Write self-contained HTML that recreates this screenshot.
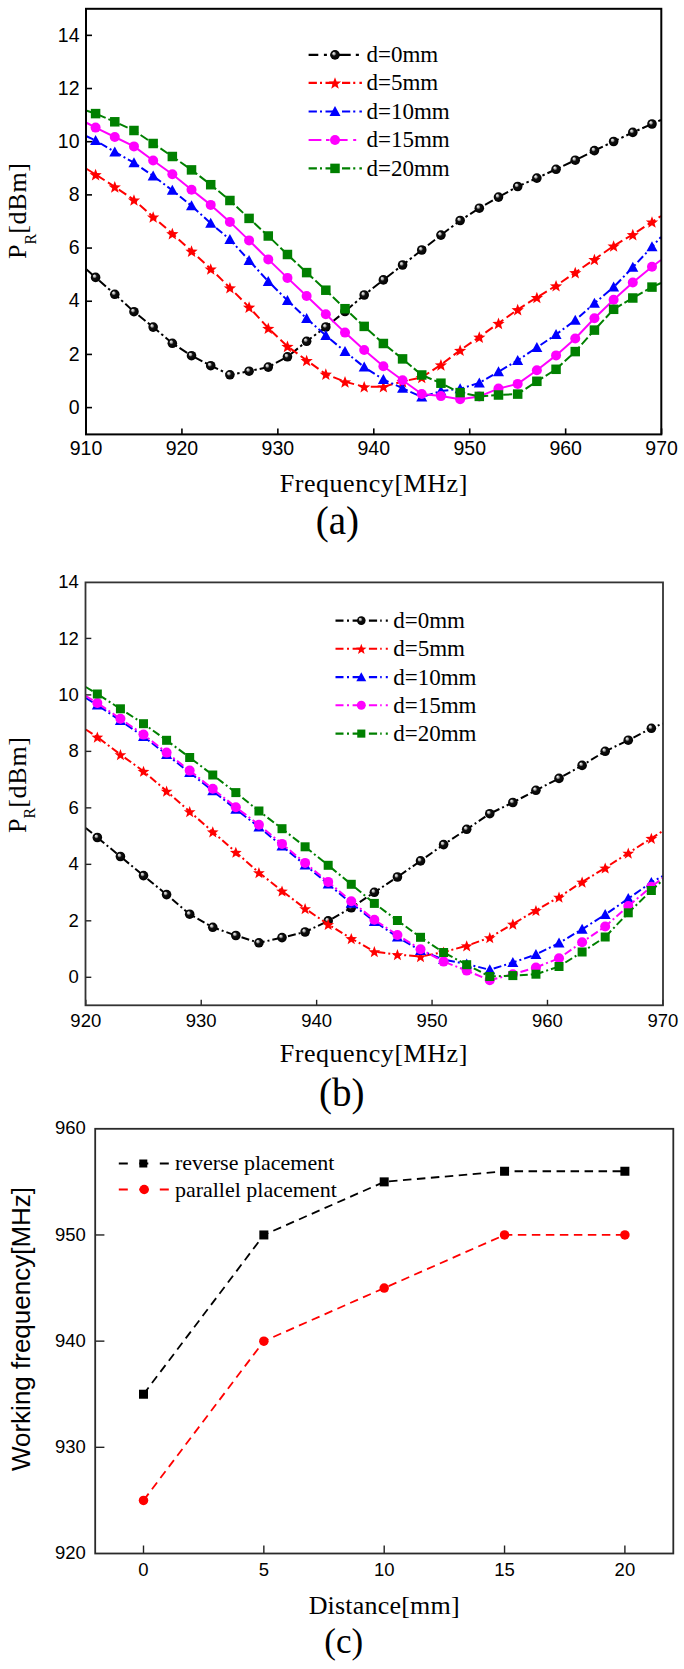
<!DOCTYPE html>
<html><head><meta charset="utf-8"><title>Figure</title>
<style>html,body{margin:0;padding:0;background:#fff;}body{width:684px;height:1669px;overflow:hidden;}svg{display:block;}text{fill:#000;}</style></head><body>
<svg width="684" height="1669" viewBox="0 0 684 1669">
<defs><radialGradient id="sph" cx="0.5" cy="0.5" r="0.5" fx="0.33" fy="0.3"><stop offset="0" stop-color="#fafafa"/><stop offset="0.25" stop-color="#aaa"/><stop offset="0.45" stop-color="#111"/><stop offset="1" stop-color="#000"/></radialGradient></defs>
<rect width="684" height="1669" fill="#fff"/>
<line x1="86.00" y1="407.60" x2="92.00" y2="407.60" stroke="#000" stroke-width="1.60"/>
<text x="79.50" y="413.80" font-size="19.50" font-family='"Liberation Sans", sans-serif' text-anchor="end" >0</text>
<line x1="86.00" y1="354.42" x2="92.00" y2="354.42" stroke="#000" stroke-width="1.60"/>
<text x="79.50" y="360.62" font-size="19.50" font-family='"Liberation Sans", sans-serif' text-anchor="end" >2</text>
<line x1="86.00" y1="301.24" x2="92.00" y2="301.24" stroke="#000" stroke-width="1.60"/>
<text x="79.50" y="307.44" font-size="19.50" font-family='"Liberation Sans", sans-serif' text-anchor="end" >4</text>
<line x1="86.00" y1="248.06" x2="92.00" y2="248.06" stroke="#000" stroke-width="1.60"/>
<text x="79.50" y="254.26" font-size="19.50" font-family='"Liberation Sans", sans-serif' text-anchor="end" >6</text>
<line x1="86.00" y1="194.88" x2="92.00" y2="194.88" stroke="#000" stroke-width="1.60"/>
<text x="79.50" y="201.08" font-size="19.50" font-family='"Liberation Sans", sans-serif' text-anchor="end" >8</text>
<line x1="86.00" y1="141.70" x2="92.00" y2="141.70" stroke="#000" stroke-width="1.60"/>
<text x="79.50" y="147.90" font-size="19.50" font-family='"Liberation Sans", sans-serif' text-anchor="end" >10</text>
<line x1="86.00" y1="88.52" x2="92.00" y2="88.52" stroke="#000" stroke-width="1.60"/>
<text x="79.50" y="94.72" font-size="19.50" font-family='"Liberation Sans", sans-serif' text-anchor="end" >12</text>
<line x1="86.00" y1="35.34" x2="92.00" y2="35.34" stroke="#000" stroke-width="1.60"/>
<text x="79.50" y="41.54" font-size="19.50" font-family='"Liberation Sans", sans-serif' text-anchor="end" >14</text>
<line x1="86.00" y1="434.40" x2="86.00" y2="428.40" stroke="#000" stroke-width="1.60"/>
<text x="86.00" y="455.20" font-size="19.50" font-family='"Liberation Sans", sans-serif' text-anchor="middle" >910</text>
<line x1="181.93" y1="434.40" x2="181.93" y2="428.40" stroke="#000" stroke-width="1.60"/>
<text x="181.93" y="455.20" font-size="19.50" font-family='"Liberation Sans", sans-serif' text-anchor="middle" >920</text>
<line x1="277.86" y1="434.40" x2="277.86" y2="428.40" stroke="#000" stroke-width="1.60"/>
<text x="277.86" y="455.20" font-size="19.50" font-family='"Liberation Sans", sans-serif' text-anchor="middle" >930</text>
<line x1="373.79" y1="434.40" x2="373.79" y2="428.40" stroke="#000" stroke-width="1.60"/>
<text x="373.79" y="455.20" font-size="19.50" font-family='"Liberation Sans", sans-serif' text-anchor="middle" >940</text>
<line x1="469.72" y1="434.40" x2="469.72" y2="428.40" stroke="#000" stroke-width="1.60"/>
<text x="469.72" y="455.20" font-size="19.50" font-family='"Liberation Sans", sans-serif' text-anchor="middle" >950</text>
<line x1="565.65" y1="434.40" x2="565.65" y2="428.40" stroke="#000" stroke-width="1.60"/>
<text x="565.65" y="455.20" font-size="19.50" font-family='"Liberation Sans", sans-serif' text-anchor="middle" >960</text>
<line x1="661.58" y1="434.40" x2="661.58" y2="428.40" stroke="#000" stroke-width="1.60"/>
<text x="661.58" y="455.20" font-size="19.50" font-family='"Liberation Sans", sans-serif' text-anchor="middle" >970</text>
<polyline points="86.00,269.00 95.59,277.40 114.78,294.30 133.97,311.70 153.15,327.10 172.34,343.30 191.52,355.70 210.71,365.70 229.90,374.80 249.08,371.20 268.27,367.10 287.45,356.80 306.64,341.30 325.82,327.00 345.01,311.50 364.20,295.00 383.38,279.90 402.57,265.00 421.75,250.00 440.94,235.10 460.13,220.50 479.31,208.20 498.50,197.10 517.68,186.50 536.87,178.10 556.06,169.30 575.24,160.20 594.43,150.60 613.62,141.50 632.80,132.40 651.99,124.00 661.00,120.00" fill="none" stroke="#000" stroke-width="2.00" stroke-dasharray="9 3 2.5 3" stroke-linejoin="round"/>
<circle cx="95.59" cy="277.40" r="4.80" fill="url(#sph)"/>
<circle cx="114.78" cy="294.30" r="4.80" fill="url(#sph)"/>
<circle cx="133.97" cy="311.70" r="4.80" fill="url(#sph)"/>
<circle cx="153.15" cy="327.10" r="4.80" fill="url(#sph)"/>
<circle cx="172.34" cy="343.30" r="4.80" fill="url(#sph)"/>
<circle cx="191.52" cy="355.70" r="4.80" fill="url(#sph)"/>
<circle cx="210.71" cy="365.70" r="4.80" fill="url(#sph)"/>
<circle cx="229.90" cy="374.80" r="4.80" fill="url(#sph)"/>
<circle cx="249.08" cy="371.20" r="4.80" fill="url(#sph)"/>
<circle cx="268.27" cy="367.10" r="4.80" fill="url(#sph)"/>
<circle cx="287.45" cy="356.80" r="4.80" fill="url(#sph)"/>
<circle cx="306.64" cy="341.30" r="4.80" fill="url(#sph)"/>
<circle cx="325.82" cy="327.00" r="4.80" fill="url(#sph)"/>
<circle cx="345.01" cy="311.50" r="4.80" fill="url(#sph)"/>
<circle cx="364.20" cy="295.00" r="4.80" fill="url(#sph)"/>
<circle cx="383.38" cy="279.90" r="4.80" fill="url(#sph)"/>
<circle cx="402.57" cy="265.00" r="4.80" fill="url(#sph)"/>
<circle cx="421.75" cy="250.00" r="4.80" fill="url(#sph)"/>
<circle cx="440.94" cy="235.10" r="4.80" fill="url(#sph)"/>
<circle cx="460.13" cy="220.50" r="4.80" fill="url(#sph)"/>
<circle cx="479.31" cy="208.20" r="4.80" fill="url(#sph)"/>
<circle cx="498.50" cy="197.10" r="4.80" fill="url(#sph)"/>
<circle cx="517.68" cy="186.50" r="4.80" fill="url(#sph)"/>
<circle cx="536.87" cy="178.10" r="4.80" fill="url(#sph)"/>
<circle cx="556.06" cy="169.30" r="4.80" fill="url(#sph)"/>
<circle cx="575.24" cy="160.20" r="4.80" fill="url(#sph)"/>
<circle cx="594.43" cy="150.60" r="4.80" fill="url(#sph)"/>
<circle cx="613.62" cy="141.50" r="4.80" fill="url(#sph)"/>
<circle cx="632.80" cy="132.40" r="4.80" fill="url(#sph)"/>
<circle cx="651.99" cy="124.00" r="4.80" fill="url(#sph)"/>
<polyline points="86.00,168.50 95.59,174.50 114.78,186.80 133.97,199.90 153.15,216.90 172.34,233.60 191.52,251.10 210.71,268.90 229.90,287.70 249.08,307.10 268.27,328.20 287.45,346.30 306.64,360.40 325.82,374.10 345.01,381.80 364.20,386.70 383.38,386.70 402.57,381.50 421.75,377.40 440.94,364.80 460.13,350.20 479.31,337.00 498.50,323.30 517.68,309.60 536.87,297.40 556.06,285.70 575.24,272.50 594.43,259.40 613.62,245.90 632.80,234.50 651.99,221.90 661.00,216.00" fill="none" stroke="#ff0000" stroke-width="2.00" stroke-dasharray="9 4" stroke-linejoin="round"/>
<path d="M95.59,168.75 L97.18,173.00 L101.72,173.20 L98.17,176.03 L99.38,180.40 L95.59,177.89 L91.81,180.40 L93.02,176.03 L89.47,173.20 L94.00,173.00Z" fill="#ff0000"/>
<path d="M114.78,181.05 L116.37,185.30 L120.90,185.50 L117.35,188.33 L118.56,192.70 L114.78,190.19 L110.99,192.70 L112.21,188.33 L108.65,185.50 L113.19,185.30Z" fill="#ff0000"/>
<path d="M133.97,194.15 L135.55,198.40 L140.09,198.60 L136.54,201.43 L137.75,205.80 L133.97,203.29 L130.18,205.80 L131.39,201.43 L127.84,198.60 L132.38,198.40Z" fill="#ff0000"/>
<path d="M153.15,211.15 L154.74,215.40 L159.28,215.60 L155.72,218.43 L156.94,222.80 L153.15,220.29 L149.37,222.80 L150.58,218.43 L147.03,215.60 L151.56,215.40Z" fill="#ff0000"/>
<path d="M172.34,227.85 L173.93,232.10 L178.46,232.30 L174.91,235.13 L176.12,239.50 L172.34,236.99 L168.55,239.50 L169.76,235.13 L166.21,232.30 L170.75,232.10Z" fill="#ff0000"/>
<path d="M191.52,245.35 L193.11,249.60 L197.65,249.80 L194.10,252.63 L195.31,257.00 L191.52,254.49 L187.74,257.00 L188.95,252.63 L185.40,249.80 L189.93,249.60Z" fill="#ff0000"/>
<path d="M210.71,263.15 L212.30,267.40 L216.83,267.60 L213.28,270.43 L214.49,274.80 L210.71,272.29 L206.92,274.80 L208.14,270.43 L204.58,267.60 L209.12,267.40Z" fill="#ff0000"/>
<path d="M229.90,281.95 L231.48,286.20 L236.02,286.40 L232.47,289.23 L233.68,293.60 L229.90,291.09 L226.11,293.60 L227.32,289.23 L223.77,286.40 L228.31,286.20Z" fill="#ff0000"/>
<path d="M249.08,301.35 L250.67,305.60 L255.21,305.80 L251.65,308.63 L252.87,313.00 L249.08,310.49 L245.30,313.00 L246.51,308.63 L242.96,305.80 L247.49,305.60Z" fill="#ff0000"/>
<path d="M268.27,322.45 L269.86,326.70 L274.39,326.90 L270.84,329.73 L272.05,334.10 L268.27,331.59 L264.48,334.10 L265.69,329.73 L262.14,326.90 L266.68,326.70Z" fill="#ff0000"/>
<path d="M287.45,340.55 L289.04,344.80 L293.58,345.00 L290.03,347.83 L291.24,352.20 L287.45,349.69 L283.67,352.20 L284.88,347.83 L281.33,345.00 L285.86,344.80Z" fill="#ff0000"/>
<path d="M306.64,354.65 L308.23,358.90 L312.76,359.10 L309.21,361.93 L310.42,366.30 L306.64,363.79 L302.85,366.30 L304.07,361.93 L300.51,359.10 L305.05,358.90Z" fill="#ff0000"/>
<path d="M325.82,368.35 L327.41,372.60 L331.95,372.80 L328.40,375.63 L329.61,380.00 L325.82,377.49 L322.04,380.00 L323.25,375.63 L319.70,372.80 L324.24,372.60Z" fill="#ff0000"/>
<path d="M345.01,376.05 L346.60,380.30 L351.14,380.50 L347.58,383.33 L348.80,387.70 L345.01,385.19 L341.23,387.70 L342.44,383.33 L338.89,380.50 L343.42,380.30Z" fill="#ff0000"/>
<path d="M364.20,380.95 L365.79,385.20 L370.32,385.40 L366.77,388.23 L367.98,392.60 L364.20,390.09 L360.41,392.60 L361.62,388.23 L358.07,385.40 L362.61,385.20Z" fill="#ff0000"/>
<path d="M383.38,380.95 L384.97,385.20 L389.51,385.40 L385.96,388.23 L387.17,392.60 L383.38,390.09 L379.60,392.60 L380.81,388.23 L377.26,385.40 L381.79,385.20Z" fill="#ff0000"/>
<path d="M402.57,375.75 L404.16,380.00 L408.69,380.20 L405.14,383.03 L406.35,387.40 L402.57,384.89 L398.78,387.40 L400.00,383.03 L396.44,380.20 L400.98,380.00Z" fill="#ff0000"/>
<path d="M421.75,371.65 L423.34,375.90 L427.88,376.10 L424.33,378.93 L425.54,383.30 L421.75,380.79 L417.97,383.30 L419.18,378.93 L415.63,376.10 L420.17,375.90Z" fill="#ff0000"/>
<path d="M440.94,359.05 L442.53,363.30 L447.07,363.50 L443.51,366.33 L444.73,370.70 L440.94,368.19 L437.16,370.70 L438.37,366.33 L434.82,363.50 L439.35,363.30Z" fill="#ff0000"/>
<path d="M460.13,344.45 L461.72,348.70 L466.25,348.90 L462.70,351.73 L463.91,356.10 L460.13,353.59 L456.34,356.10 L457.55,351.73 L454.00,348.90 L458.54,348.70Z" fill="#ff0000"/>
<path d="M479.31,331.25 L480.90,335.50 L485.44,335.70 L481.89,338.53 L483.10,342.90 L479.31,340.39 L475.53,342.90 L476.74,338.53 L473.19,335.70 L477.72,335.50Z" fill="#ff0000"/>
<path d="M498.50,317.55 L500.09,321.80 L504.62,322.00 L501.07,324.83 L502.28,329.20 L498.50,326.69 L494.71,329.20 L495.93,324.83 L492.37,322.00 L496.91,321.80Z" fill="#ff0000"/>
<path d="M517.68,303.85 L519.27,308.10 L523.81,308.30 L520.26,311.13 L521.47,315.50 L517.68,312.99 L513.90,315.50 L515.11,311.13 L511.56,308.30 L516.10,308.10Z" fill="#ff0000"/>
<path d="M536.87,291.65 L538.46,295.90 L543.00,296.10 L539.44,298.93 L540.66,303.30 L536.87,300.79 L533.09,303.30 L534.30,298.93 L530.75,296.10 L535.28,295.90Z" fill="#ff0000"/>
<path d="M556.06,279.95 L557.65,284.20 L562.18,284.40 L558.63,287.23 L559.84,291.60 L556.06,289.09 L552.27,291.60 L553.48,287.23 L549.93,284.40 L554.47,284.20Z" fill="#ff0000"/>
<path d="M575.24,266.75 L576.83,271.00 L581.37,271.20 L577.82,274.03 L579.03,278.40 L575.24,275.89 L571.46,278.40 L572.67,274.03 L569.12,271.20 L573.65,271.00Z" fill="#ff0000"/>
<path d="M594.43,253.65 L596.02,257.90 L600.55,258.10 L597.00,260.93 L598.21,265.30 L594.43,262.79 L590.64,265.30 L591.86,260.93 L588.30,258.10 L592.84,257.90Z" fill="#ff0000"/>
<path d="M613.62,240.15 L615.20,244.40 L619.74,244.60 L616.19,247.43 L617.40,251.80 L613.62,249.29 L609.83,251.80 L611.04,247.43 L607.49,244.60 L612.03,244.40Z" fill="#ff0000"/>
<path d="M632.80,228.75 L634.39,233.00 L638.93,233.20 L635.37,236.03 L636.59,240.40 L632.80,237.89 L629.02,240.40 L630.23,236.03 L626.68,233.20 L631.21,233.00Z" fill="#ff0000"/>
<path d="M651.99,216.15 L653.58,220.40 L658.11,220.60 L654.56,223.43 L655.77,227.80 L651.99,225.29 L648.20,227.80 L649.41,223.43 L645.86,220.60 L650.40,220.40Z" fill="#ff0000"/>
<polyline points="86.00,136.00 95.59,140.50 114.78,151.90 133.97,162.70 153.15,176.00 172.34,190.30 191.52,205.80 210.71,223.30 229.90,239.50 249.08,260.40 268.27,281.40 287.45,300.40 306.64,318.50 325.82,335.50 345.01,351.50 364.20,367.10 383.38,379.40 402.57,388.20 421.75,397.00 440.94,391.10 460.13,388.80 479.31,382.90 498.50,371.70 517.68,360.40 536.87,347.50 556.06,334.50 575.24,320.20 594.43,303.30 613.62,287.10 632.80,267.30 651.99,246.80 661.00,237.00" fill="none" stroke="#0000ff" stroke-width="2.00" stroke-dasharray="8 3 2 3" stroke-linejoin="round"/>
<path d="M95.59,135.01 L101.11,144.99 L90.08,144.99Z" fill="#0000ff"/>
<path d="M114.78,146.41 L120.29,156.39 L109.27,156.39Z" fill="#0000ff"/>
<path d="M133.97,157.21 L139.48,167.19 L128.45,167.19Z" fill="#0000ff"/>
<path d="M153.15,170.51 L158.66,180.49 L147.64,180.49Z" fill="#0000ff"/>
<path d="M172.34,184.81 L177.85,194.79 L166.82,194.79Z" fill="#0000ff"/>
<path d="M191.52,200.31 L197.04,210.29 L186.01,210.29Z" fill="#0000ff"/>
<path d="M210.71,217.81 L216.22,227.79 L205.20,227.79Z" fill="#0000ff"/>
<path d="M229.90,234.01 L235.41,243.99 L224.38,243.99Z" fill="#0000ff"/>
<path d="M249.08,254.91 L254.59,264.89 L243.57,264.89Z" fill="#0000ff"/>
<path d="M268.27,275.91 L273.78,285.89 L262.75,285.89Z" fill="#0000ff"/>
<path d="M287.45,294.91 L292.97,304.89 L281.94,304.89Z" fill="#0000ff"/>
<path d="M306.64,313.01 L312.15,322.99 L301.13,322.99Z" fill="#0000ff"/>
<path d="M325.82,330.01 L331.34,339.99 L320.31,339.99Z" fill="#0000ff"/>
<path d="M345.01,346.01 L350.52,355.99 L339.50,355.99Z" fill="#0000ff"/>
<path d="M364.20,361.61 L369.71,371.59 L358.68,371.59Z" fill="#0000ff"/>
<path d="M383.38,373.91 L388.90,383.89 L377.87,383.89Z" fill="#0000ff"/>
<path d="M402.57,382.71 L408.08,392.69 L397.06,392.69Z" fill="#0000ff"/>
<path d="M421.75,391.51 L427.27,401.49 L416.24,401.49Z" fill="#0000ff"/>
<path d="M440.94,385.61 L446.45,395.59 L435.43,395.59Z" fill="#0000ff"/>
<path d="M460.13,383.31 L465.64,393.29 L454.61,393.29Z" fill="#0000ff"/>
<path d="M479.31,377.41 L484.83,387.39 L473.80,387.39Z" fill="#0000ff"/>
<path d="M498.50,366.21 L504.01,376.19 L492.99,376.19Z" fill="#0000ff"/>
<path d="M517.68,354.91 L523.20,364.89 L512.17,364.89Z" fill="#0000ff"/>
<path d="M536.87,342.01 L542.38,351.99 L531.36,351.99Z" fill="#0000ff"/>
<path d="M556.06,329.01 L561.57,338.99 L550.54,338.99Z" fill="#0000ff"/>
<path d="M575.24,314.71 L580.76,324.69 L569.73,324.69Z" fill="#0000ff"/>
<path d="M594.43,297.81 L599.94,307.79 L588.92,307.79Z" fill="#0000ff"/>
<path d="M613.62,281.61 L619.13,291.59 L608.10,291.59Z" fill="#0000ff"/>
<path d="M632.80,261.81 L638.31,271.79 L627.29,271.79Z" fill="#0000ff"/>
<path d="M651.99,241.31 L657.50,251.29 L646.47,251.29Z" fill="#0000ff"/>
<polyline points="86.00,122.50 95.59,127.60 114.78,137.00 133.97,146.40 153.15,160.50 172.34,174.30 191.52,189.70 210.71,204.90 229.90,221.90 249.08,240.40 268.27,259.40 287.45,277.90 306.64,296.00 325.82,314.20 345.01,332.60 364.20,350.00 383.38,366.30 402.57,380.30 421.75,394.00 440.94,396.10 460.13,399.30 479.31,396.40 498.50,388.60 517.68,383.90 536.87,370.20 556.06,355.40 575.24,338.50 594.43,318.20 613.62,299.80 632.80,282.50 651.99,266.70 661.00,260.00" fill="none" stroke="#ff00ff" stroke-width="2.00" stroke-linejoin="round"/>
<circle cx="95.59" cy="127.60" r="5.00" fill="#ff00ff"/>
<circle cx="114.78" cy="137.00" r="5.00" fill="#ff00ff"/>
<circle cx="133.97" cy="146.40" r="5.00" fill="#ff00ff"/>
<circle cx="153.15" cy="160.50" r="5.00" fill="#ff00ff"/>
<circle cx="172.34" cy="174.30" r="5.00" fill="#ff00ff"/>
<circle cx="191.52" cy="189.70" r="5.00" fill="#ff00ff"/>
<circle cx="210.71" cy="204.90" r="5.00" fill="#ff00ff"/>
<circle cx="229.90" cy="221.90" r="5.00" fill="#ff00ff"/>
<circle cx="249.08" cy="240.40" r="5.00" fill="#ff00ff"/>
<circle cx="268.27" cy="259.40" r="5.00" fill="#ff00ff"/>
<circle cx="287.45" cy="277.90" r="5.00" fill="#ff00ff"/>
<circle cx="306.64" cy="296.00" r="5.00" fill="#ff00ff"/>
<circle cx="325.82" cy="314.20" r="5.00" fill="#ff00ff"/>
<circle cx="345.01" cy="332.60" r="5.00" fill="#ff00ff"/>
<circle cx="364.20" cy="350.00" r="5.00" fill="#ff00ff"/>
<circle cx="383.38" cy="366.30" r="5.00" fill="#ff00ff"/>
<circle cx="402.57" cy="380.30" r="5.00" fill="#ff00ff"/>
<circle cx="421.75" cy="394.00" r="5.00" fill="#ff00ff"/>
<circle cx="440.94" cy="396.10" r="5.00" fill="#ff00ff"/>
<circle cx="460.13" cy="399.30" r="5.00" fill="#ff00ff"/>
<circle cx="479.31" cy="396.40" r="5.00" fill="#ff00ff"/>
<circle cx="498.50" cy="388.60" r="5.00" fill="#ff00ff"/>
<circle cx="517.68" cy="383.90" r="5.00" fill="#ff00ff"/>
<circle cx="536.87" cy="370.20" r="5.00" fill="#ff00ff"/>
<circle cx="556.06" cy="355.40" r="5.00" fill="#ff00ff"/>
<circle cx="575.24" cy="338.50" r="5.00" fill="#ff00ff"/>
<circle cx="594.43" cy="318.20" r="5.00" fill="#ff00ff"/>
<circle cx="613.62" cy="299.80" r="5.00" fill="#ff00ff"/>
<circle cx="632.80" cy="282.50" r="5.00" fill="#ff00ff"/>
<circle cx="651.99" cy="266.70" r="5.00" fill="#ff00ff"/>
<polyline points="86.00,110.50 95.59,113.60 114.78,121.80 133.97,130.50 153.15,143.50 172.34,156.50 191.52,169.90 210.71,184.70 229.90,200.50 249.08,218.40 268.27,236.00 287.45,254.50 306.64,272.60 325.82,290.20 345.01,308.70 364.20,326.40 383.38,343.50 402.57,358.90 421.75,375.00 440.94,383.20 460.13,392.60 479.31,396.40 498.50,395.00 517.68,394.10 536.87,381.30 556.06,369.30 575.24,351.60 594.43,330.10 613.62,309.30 632.80,298.00 651.99,287.10 661.00,283.00" fill="none" stroke="#008000" stroke-width="2.00" stroke-dasharray="9 3" stroke-linejoin="round"/>
<rect x="90.84" y="108.85" width="9.50" height="9.50" fill="#008000"/>
<rect x="110.03" y="117.05" width="9.50" height="9.50" fill="#008000"/>
<rect x="129.22" y="125.75" width="9.50" height="9.50" fill="#008000"/>
<rect x="148.40" y="138.75" width="9.50" height="9.50" fill="#008000"/>
<rect x="167.59" y="151.75" width="9.50" height="9.50" fill="#008000"/>
<rect x="186.77" y="165.15" width="9.50" height="9.50" fill="#008000"/>
<rect x="205.96" y="179.95" width="9.50" height="9.50" fill="#008000"/>
<rect x="225.15" y="195.75" width="9.50" height="9.50" fill="#008000"/>
<rect x="244.33" y="213.65" width="9.50" height="9.50" fill="#008000"/>
<rect x="263.52" y="231.25" width="9.50" height="9.50" fill="#008000"/>
<rect x="282.70" y="249.75" width="9.50" height="9.50" fill="#008000"/>
<rect x="301.89" y="267.85" width="9.50" height="9.50" fill="#008000"/>
<rect x="321.07" y="285.45" width="9.50" height="9.50" fill="#008000"/>
<rect x="340.26" y="303.95" width="9.50" height="9.50" fill="#008000"/>
<rect x="359.45" y="321.65" width="9.50" height="9.50" fill="#008000"/>
<rect x="378.63" y="338.75" width="9.50" height="9.50" fill="#008000"/>
<rect x="397.82" y="354.15" width="9.50" height="9.50" fill="#008000"/>
<rect x="417.00" y="370.25" width="9.50" height="9.50" fill="#008000"/>
<rect x="436.19" y="378.45" width="9.50" height="9.50" fill="#008000"/>
<rect x="455.38" y="387.85" width="9.50" height="9.50" fill="#008000"/>
<rect x="474.56" y="391.65" width="9.50" height="9.50" fill="#008000"/>
<rect x="493.75" y="390.25" width="9.50" height="9.50" fill="#008000"/>
<rect x="512.93" y="389.35" width="9.50" height="9.50" fill="#008000"/>
<rect x="532.12" y="376.55" width="9.50" height="9.50" fill="#008000"/>
<rect x="551.31" y="364.55" width="9.50" height="9.50" fill="#008000"/>
<rect x="570.49" y="346.85" width="9.50" height="9.50" fill="#008000"/>
<rect x="589.68" y="325.35" width="9.50" height="9.50" fill="#008000"/>
<rect x="608.87" y="304.55" width="9.50" height="9.50" fill="#008000"/>
<rect x="628.05" y="293.25" width="9.50" height="9.50" fill="#008000"/>
<rect x="647.24" y="282.35" width="9.50" height="9.50" fill="#008000"/>
<rect x="86.00" y="8.80" width="575.30" height="425.60" fill="none" stroke="#000" stroke-width="2.00"/>
<polyline points="308.60,54.90 335.00,54.90" fill="none" stroke="#000" stroke-width="2.10" stroke-dasharray="9.7 5.6 3 3.7 20" stroke-linejoin="round"/>
<polyline points="335.00,54.90 362.00,54.90" fill="none" stroke="#000" stroke-width="2.10" stroke-dasharray="15.7 5.1 3.1 10" stroke-linejoin="round"/>
<circle cx="335.00" cy="54.90" r="4.80" fill="url(#sph)"/>
<text x="366.50" y="62.30" font-size="23.00" font-family='"Liberation Serif", serif' text-anchor="start" >d=0mm</text>
<polyline points="308.60,82.90 335.00,82.90" fill="none" stroke="#ff0000" stroke-width="2.10" stroke-dasharray="8.3 3.1 2 3.5 20" stroke-linejoin="round"/>
<polyline points="335.00,82.90 362.00,82.90" fill="none" stroke="#ff0000" stroke-width="2.10" stroke-dasharray="0 7 8.2 3 2.1 4.1 2.5 10" stroke-linejoin="round"/>
<path d="M335.00,77.15 L336.59,81.40 L341.12,81.60 L337.57,84.43 L338.79,88.80 L335.00,86.29 L331.21,88.80 L332.43,84.43 L328.88,81.60 L333.41,81.40Z" fill="#ff0000"/>
<text x="366.50" y="90.30" font-size="23.00" font-family='"Liberation Serif", serif' text-anchor="start" >d=5mm</text>
<polyline points="308.60,111.50 335.00,111.50" fill="none" stroke="#0000ff" stroke-width="2.10" stroke-dasharray="8.3 3.1 2 3.5 20" stroke-linejoin="round"/>
<polyline points="335.00,111.50 362.00,111.50" fill="none" stroke="#0000ff" stroke-width="2.10" stroke-dasharray="0 7 8.2 3 2.1 4.1 2.5 10" stroke-linejoin="round"/>
<path d="M335.00,106.01 L340.51,115.99 L329.49,115.99Z" fill="#0000ff"/>
<text x="366.50" y="118.90" font-size="23.00" font-family='"Liberation Serif", serif' text-anchor="start" >d=10mm</text>
<polyline points="308.60,140.00 335.00,140.00" fill="none" stroke="#ff00ff" stroke-width="2.10" stroke-dasharray="12.8 4.6 3.6 3 20" stroke-linejoin="round"/>
<polyline points="335.00,140.00 362.00,140.00" fill="none" stroke="#ff00ff" stroke-width="2.10" stroke-dasharray="12.6 5.6 3 20" stroke-linejoin="round"/>
<circle cx="335.00" cy="140.00" r="5.00" fill="#ff00ff"/>
<text x="366.50" y="147.40" font-size="23.00" font-family='"Liberation Serif", serif' text-anchor="start" >d=15mm</text>
<polyline points="308.60,168.40 335.00,168.40" fill="none" stroke="#008000" stroke-width="2.10" stroke-dasharray="8.3 3.1 2 3.5 20" stroke-linejoin="round"/>
<polyline points="335.00,168.40 362.00,168.40" fill="none" stroke="#008000" stroke-width="2.10" stroke-dasharray="0 7 8.2 3 2.1 4.1 2.5 10" stroke-linejoin="round"/>
<rect x="330.25" y="163.65" width="9.50" height="9.50" fill="#008000"/>
<text x="366.50" y="175.80" font-size="23.00" font-family='"Liberation Serif", serif' text-anchor="start" >d=20mm</text>
<text x="373.80" y="492.00" font-size="26.00" font-family='"Liberation Serif", serif' text-anchor="middle" letter-spacing="0.55">Frequency[MHz]</text>
<text x="337.40" y="534.00" font-size="39.00" font-family='"Liberation Serif", serif' text-anchor="middle" >(a)</text>
<g transform="translate(26.4,210.6) rotate(-90)"><text x="0" y="0" font-size="26" font-family='"Liberation Serif", serif' text-anchor="middle">P<tspan font-size="16" dy="9.5">R</tspan><tspan dy="-9.5" letter-spacing="0.75">[dBm]</tspan></text></g>
<line x1="85.80" y1="977.30" x2="91.30" y2="977.30" stroke="#222" stroke-width="1.40"/>
<text x="78.80" y="983.40" font-size="18.50" font-family='"Liberation Sans", sans-serif' text-anchor="end" >0</text>
<line x1="85.80" y1="920.82" x2="91.30" y2="920.82" stroke="#222" stroke-width="1.40"/>
<text x="78.80" y="926.92" font-size="18.50" font-family='"Liberation Sans", sans-serif' text-anchor="end" >2</text>
<line x1="85.80" y1="864.34" x2="91.30" y2="864.34" stroke="#222" stroke-width="1.40"/>
<text x="78.80" y="870.44" font-size="18.50" font-family='"Liberation Sans", sans-serif' text-anchor="end" >4</text>
<line x1="85.80" y1="807.86" x2="91.30" y2="807.86" stroke="#222" stroke-width="1.40"/>
<text x="78.80" y="813.96" font-size="18.50" font-family='"Liberation Sans", sans-serif' text-anchor="end" >6</text>
<line x1="85.80" y1="751.38" x2="91.30" y2="751.38" stroke="#222" stroke-width="1.40"/>
<text x="78.80" y="757.48" font-size="18.50" font-family='"Liberation Sans", sans-serif' text-anchor="end" >8</text>
<line x1="85.80" y1="694.90" x2="91.30" y2="694.90" stroke="#222" stroke-width="1.40"/>
<text x="78.80" y="701.00" font-size="18.50" font-family='"Liberation Sans", sans-serif' text-anchor="end" >10</text>
<line x1="85.80" y1="638.42" x2="91.30" y2="638.42" stroke="#222" stroke-width="1.40"/>
<text x="78.80" y="644.52" font-size="18.50" font-family='"Liberation Sans", sans-serif' text-anchor="end" >12</text>
<text x="78.80" y="588.04" font-size="18.50" font-family='"Liberation Sans", sans-serif' text-anchor="end" >14</text>
<line x1="85.80" y1="1005.30" x2="85.80" y2="999.80" stroke="#222" stroke-width="1.40"/>
<text x="85.80" y="1026.50" font-size="18.50" font-family='"Liberation Sans", sans-serif' text-anchor="middle" >920</text>
<line x1="201.22" y1="1005.30" x2="201.22" y2="999.80" stroke="#222" stroke-width="1.40"/>
<text x="201.22" y="1026.50" font-size="18.50" font-family='"Liberation Sans", sans-serif' text-anchor="middle" >930</text>
<line x1="316.64" y1="1005.30" x2="316.64" y2="999.80" stroke="#222" stroke-width="1.40"/>
<text x="316.64" y="1026.50" font-size="18.50" font-family='"Liberation Sans", sans-serif' text-anchor="middle" >940</text>
<line x1="432.06" y1="1005.30" x2="432.06" y2="999.80" stroke="#222" stroke-width="1.40"/>
<text x="432.06" y="1026.50" font-size="18.50" font-family='"Liberation Sans", sans-serif' text-anchor="middle" >950</text>
<line x1="547.48" y1="1005.30" x2="547.48" y2="999.80" stroke="#222" stroke-width="1.40"/>
<text x="547.48" y="1026.50" font-size="18.50" font-family='"Liberation Sans", sans-serif' text-anchor="middle" >960</text>
<line x1="662.90" y1="1005.30" x2="662.90" y2="999.80" stroke="#222" stroke-width="1.40"/>
<text x="662.90" y="1026.50" font-size="18.50" font-family='"Liberation Sans", sans-serif' text-anchor="middle" >970</text>
<polyline points="85.80,828.00 97.34,837.50 120.43,856.50 143.51,875.60 166.59,894.60 189.68,914.20 212.76,927.30 235.85,935.50 258.93,942.80 282.01,937.60 305.10,932.00 328.18,920.90 351.27,907.80 374.35,892.30 397.43,877.00 420.52,860.90 443.60,844.60 466.69,829.30 489.77,813.70 512.85,802.50 535.94,790.30 559.02,778.40 582.11,765.40 605.19,751.30 628.27,740.20 651.36,728.30 662.90,723.50" fill="none" stroke="#000" stroke-width="2.00" stroke-dasharray="8 3 2 3" stroke-linejoin="round"/>
<circle cx="97.34" cy="837.50" r="4.80" fill="url(#sph)"/>
<circle cx="120.43" cy="856.50" r="4.80" fill="url(#sph)"/>
<circle cx="143.51" cy="875.60" r="4.80" fill="url(#sph)"/>
<circle cx="166.59" cy="894.60" r="4.80" fill="url(#sph)"/>
<circle cx="189.68" cy="914.20" r="4.80" fill="url(#sph)"/>
<circle cx="212.76" cy="927.30" r="4.80" fill="url(#sph)"/>
<circle cx="235.85" cy="935.50" r="4.80" fill="url(#sph)"/>
<circle cx="258.93" cy="942.80" r="4.80" fill="url(#sph)"/>
<circle cx="282.01" cy="937.60" r="4.80" fill="url(#sph)"/>
<circle cx="305.10" cy="932.00" r="4.80" fill="url(#sph)"/>
<circle cx="328.18" cy="920.90" r="4.80" fill="url(#sph)"/>
<circle cx="351.27" cy="907.80" r="4.80" fill="url(#sph)"/>
<circle cx="374.35" cy="892.30" r="4.80" fill="url(#sph)"/>
<circle cx="397.43" cy="877.00" r="4.80" fill="url(#sph)"/>
<circle cx="420.52" cy="860.90" r="4.80" fill="url(#sph)"/>
<circle cx="443.60" cy="844.60" r="4.80" fill="url(#sph)"/>
<circle cx="466.69" cy="829.30" r="4.80" fill="url(#sph)"/>
<circle cx="489.77" cy="813.70" r="4.80" fill="url(#sph)"/>
<circle cx="512.85" cy="802.50" r="4.80" fill="url(#sph)"/>
<circle cx="535.94" cy="790.30" r="4.80" fill="url(#sph)"/>
<circle cx="559.02" cy="778.40" r="4.80" fill="url(#sph)"/>
<circle cx="582.11" cy="765.40" r="4.80" fill="url(#sph)"/>
<circle cx="605.19" cy="751.30" r="4.80" fill="url(#sph)"/>
<circle cx="628.27" cy="740.20" r="4.80" fill="url(#sph)"/>
<circle cx="651.36" cy="728.30" r="4.80" fill="url(#sph)"/>
<polyline points="85.80,729.50 97.34,737.00 120.43,754.60 143.51,771.20 166.59,791.10 189.68,811.60 212.76,831.80 235.85,852.20 258.93,872.60 282.01,890.90 305.10,908.60 328.18,924.40 351.27,938.50 374.35,951.60 397.43,954.60 420.52,956.60 443.60,952.00 466.69,945.80 489.77,937.60 512.85,924.00 535.94,910.40 559.02,897.10 582.11,882.00 605.19,867.90 628.27,853.10 651.36,838.30 662.90,831.00" fill="none" stroke="#ff0000" stroke-width="2.00" stroke-dasharray="8 3 2 3" stroke-linejoin="round"/>
<path d="M97.34,731.50 L98.86,735.57 L103.20,735.76 L99.80,738.46 L100.96,742.64 L97.34,740.25 L93.72,742.64 L94.88,738.46 L91.48,735.76 L95.82,735.57Z" fill="#ff0000"/>
<path d="M120.43,749.10 L121.95,753.17 L126.28,753.36 L122.89,756.06 L124.05,760.24 L120.43,757.85 L116.81,760.24 L117.97,756.06 L114.57,753.36 L118.91,753.17Z" fill="#ff0000"/>
<path d="M143.51,765.70 L145.03,769.77 L149.37,769.96 L145.97,772.66 L147.13,776.84 L143.51,774.45 L139.89,776.84 L141.05,772.66 L137.65,769.96 L141.99,769.77Z" fill="#ff0000"/>
<path d="M166.59,785.60 L168.11,789.67 L172.45,789.86 L169.05,792.56 L170.21,796.74 L166.59,794.35 L162.97,796.74 L164.13,792.56 L160.74,789.86 L165.07,789.67Z" fill="#ff0000"/>
<path d="M189.68,806.10 L191.20,810.17 L195.54,810.36 L192.14,813.06 L193.30,817.24 L189.68,814.85 L186.06,817.24 L187.22,813.06 L183.82,810.36 L188.16,810.17Z" fill="#ff0000"/>
<path d="M212.76,826.30 L214.28,830.37 L218.62,830.56 L215.22,833.26 L216.38,837.44 L212.76,835.05 L209.14,837.44 L210.30,833.26 L206.90,830.56 L211.24,830.37Z" fill="#ff0000"/>
<path d="M235.85,846.70 L237.37,850.77 L241.70,850.96 L238.31,853.66 L239.47,857.84 L235.85,855.45 L232.23,857.84 L233.39,853.66 L229.99,850.96 L234.33,850.77Z" fill="#ff0000"/>
<path d="M258.93,867.10 L260.45,871.17 L264.79,871.36 L261.39,874.06 L262.55,878.24 L258.93,875.85 L255.31,878.24 L256.47,874.06 L253.07,871.36 L257.41,871.17Z" fill="#ff0000"/>
<path d="M282.01,885.40 L283.53,889.47 L287.87,889.66 L284.47,892.36 L285.63,896.54 L282.01,894.15 L278.39,896.54 L279.55,892.36 L276.16,889.66 L280.49,889.47Z" fill="#ff0000"/>
<path d="M305.10,903.10 L306.62,907.17 L310.96,907.36 L307.56,910.06 L308.72,914.24 L305.10,911.85 L301.48,914.24 L302.64,910.06 L299.24,907.36 L303.58,907.17Z" fill="#ff0000"/>
<path d="M328.18,918.90 L329.70,922.97 L334.04,923.16 L330.64,925.86 L331.80,930.04 L328.18,927.65 L324.56,930.04 L325.72,925.86 L322.32,923.16 L326.66,922.97Z" fill="#ff0000"/>
<path d="M351.27,933.00 L352.79,937.07 L357.12,937.26 L353.73,939.96 L354.89,944.14 L351.27,941.75 L347.65,944.14 L348.81,939.96 L345.41,937.26 L349.75,937.07Z" fill="#ff0000"/>
<path d="M374.35,946.10 L375.87,950.17 L380.21,950.36 L376.81,953.06 L377.97,957.24 L374.35,954.85 L370.73,957.24 L371.89,953.06 L368.49,950.36 L372.83,950.17Z" fill="#ff0000"/>
<path d="M397.43,949.10 L398.95,953.17 L403.29,953.36 L399.89,956.06 L401.05,960.24 L397.43,957.85 L393.81,960.24 L394.97,956.06 L391.58,953.36 L395.91,953.17Z" fill="#ff0000"/>
<path d="M420.52,951.10 L422.04,955.17 L426.38,955.36 L422.98,958.06 L424.14,962.24 L420.52,959.85 L416.90,962.24 L418.06,958.06 L414.66,955.36 L419.00,955.17Z" fill="#ff0000"/>
<path d="M443.60,946.50 L445.12,950.57 L449.46,950.76 L446.06,953.46 L447.22,957.64 L443.60,955.25 L439.98,957.64 L441.14,953.46 L437.74,950.76 L442.08,950.57Z" fill="#ff0000"/>
<path d="M466.69,940.30 L468.21,944.37 L472.54,944.56 L469.15,947.26 L470.31,951.44 L466.69,949.05 L463.07,951.44 L464.23,947.26 L460.83,944.56 L465.17,944.37Z" fill="#ff0000"/>
<path d="M489.77,932.10 L491.29,936.17 L495.63,936.36 L492.23,939.06 L493.39,943.24 L489.77,940.85 L486.15,943.24 L487.31,939.06 L483.91,936.36 L488.25,936.17Z" fill="#ff0000"/>
<path d="M512.85,918.50 L514.37,922.57 L518.71,922.76 L515.31,925.46 L516.47,929.64 L512.85,927.25 L509.23,929.64 L510.39,925.46 L507.00,922.76 L511.33,922.57Z" fill="#ff0000"/>
<path d="M535.94,904.90 L537.46,908.97 L541.80,909.16 L538.40,911.86 L539.56,916.04 L535.94,913.65 L532.32,916.04 L533.48,911.86 L530.08,909.16 L534.42,908.97Z" fill="#ff0000"/>
<path d="M559.02,891.60 L560.54,895.67 L564.88,895.86 L561.48,898.56 L562.64,902.74 L559.02,900.35 L555.40,902.74 L556.56,898.56 L553.16,895.86 L557.50,895.67Z" fill="#ff0000"/>
<path d="M582.11,876.50 L583.63,880.57 L587.96,880.76 L584.57,883.46 L585.73,887.64 L582.11,885.25 L578.49,887.64 L579.65,883.46 L576.25,880.76 L580.59,880.57Z" fill="#ff0000"/>
<path d="M605.19,862.40 L606.71,866.47 L611.05,866.66 L607.65,869.36 L608.81,873.54 L605.19,871.15 L601.57,873.54 L602.73,869.36 L599.33,866.66 L603.67,866.47Z" fill="#ff0000"/>
<path d="M628.27,847.60 L629.79,851.67 L634.13,851.86 L630.73,854.56 L631.89,858.74 L628.27,856.35 L624.65,858.74 L625.81,854.56 L622.42,851.86 L626.75,851.67Z" fill="#ff0000"/>
<path d="M651.36,832.80 L652.88,836.87 L657.22,837.06 L653.82,839.76 L654.98,843.94 L651.36,841.55 L647.74,843.94 L648.90,839.76 L645.50,837.06 L649.84,836.87Z" fill="#ff0000"/>
<polyline points="85.80,698.00 97.34,705.00 120.43,720.60 143.51,736.50 166.59,754.50 189.68,772.60 212.76,790.80 235.85,809.20 258.93,827.00 282.01,846.00 305.10,865.00 328.18,884.00 351.27,903.20 374.35,921.50 397.43,937.00 420.52,950.50 443.60,959.50 466.69,964.00 489.77,969.80 512.85,962.50 535.94,954.50 559.02,943.00 582.11,929.30 605.19,914.60 628.27,898.60 651.36,882.40 662.90,876.00" fill="none" stroke="#0000ff" stroke-width="2.00" stroke-dasharray="8 3 2 3" stroke-linejoin="round"/>
<path d="M97.34,699.51 L102.85,709.49 L91.83,709.49Z" fill="#0000ff"/>
<path d="M120.43,715.11 L125.94,725.09 L114.91,725.09Z" fill="#0000ff"/>
<path d="M143.51,731.01 L149.02,740.99 L138.00,740.99Z" fill="#0000ff"/>
<path d="M166.59,749.01 L172.11,758.99 L161.08,758.99Z" fill="#0000ff"/>
<path d="M189.68,767.11 L195.19,777.09 L184.17,777.09Z" fill="#0000ff"/>
<path d="M212.76,785.31 L218.27,795.29 L207.25,795.29Z" fill="#0000ff"/>
<path d="M235.85,803.71 L241.36,813.69 L230.33,813.69Z" fill="#0000ff"/>
<path d="M258.93,821.51 L264.44,831.49 L253.42,831.49Z" fill="#0000ff"/>
<path d="M282.01,840.51 L287.53,850.49 L276.50,850.49Z" fill="#0000ff"/>
<path d="M305.10,859.51 L310.61,869.49 L299.59,869.49Z" fill="#0000ff"/>
<path d="M328.18,878.51 L333.69,888.49 L322.67,888.49Z" fill="#0000ff"/>
<path d="M351.27,897.71 L356.78,907.69 L345.75,907.69Z" fill="#0000ff"/>
<path d="M374.35,916.01 L379.86,925.99 L368.84,925.99Z" fill="#0000ff"/>
<path d="M397.43,931.51 L402.95,941.49 L391.92,941.49Z" fill="#0000ff"/>
<path d="M420.52,945.01 L426.03,954.99 L415.01,954.99Z" fill="#0000ff"/>
<path d="M443.60,954.01 L449.11,963.99 L438.09,963.99Z" fill="#0000ff"/>
<path d="M466.69,958.51 L472.20,968.49 L461.17,968.49Z" fill="#0000ff"/>
<path d="M489.77,964.31 L495.28,974.29 L484.26,974.29Z" fill="#0000ff"/>
<path d="M512.85,957.01 L518.37,966.99 L507.34,966.99Z" fill="#0000ff"/>
<path d="M535.94,949.01 L541.45,958.99 L530.43,958.99Z" fill="#0000ff"/>
<path d="M559.02,937.51 L564.53,947.49 L553.51,947.49Z" fill="#0000ff"/>
<path d="M582.11,923.81 L587.62,933.79 L576.59,933.79Z" fill="#0000ff"/>
<path d="M605.19,909.11 L610.70,919.09 L599.68,919.09Z" fill="#0000ff"/>
<path d="M628.27,893.11 L633.79,903.09 L622.76,903.09Z" fill="#0000ff"/>
<path d="M651.36,876.91 L656.87,886.89 L645.85,886.89Z" fill="#0000ff"/>
<polyline points="85.80,696.00 97.34,703.00 120.43,718.80 143.51,734.60 166.59,752.60 189.68,770.60 212.76,788.80 235.85,807.20 258.93,824.80 282.01,843.90 305.10,862.90 328.18,881.90 351.27,901.20 374.35,919.80 397.43,935.00 420.52,949.30 443.60,961.60 466.69,970.60 489.77,980.30 512.85,974.20 535.94,967.50 559.02,958.20 582.11,942.20 605.19,926.50 628.27,906.10 651.36,886.70 662.90,878.00" fill="none" stroke="#ff00ff" stroke-width="2.00" stroke-dasharray="8 3 2 3" stroke-linejoin="round"/>
<circle cx="97.34" cy="703.00" r="5.00" fill="#ff00ff"/>
<circle cx="120.43" cy="718.80" r="5.00" fill="#ff00ff"/>
<circle cx="143.51" cy="734.60" r="5.00" fill="#ff00ff"/>
<circle cx="166.59" cy="752.60" r="5.00" fill="#ff00ff"/>
<circle cx="189.68" cy="770.60" r="5.00" fill="#ff00ff"/>
<circle cx="212.76" cy="788.80" r="5.00" fill="#ff00ff"/>
<circle cx="235.85" cy="807.20" r="5.00" fill="#ff00ff"/>
<circle cx="258.93" cy="824.80" r="5.00" fill="#ff00ff"/>
<circle cx="282.01" cy="843.90" r="5.00" fill="#ff00ff"/>
<circle cx="305.10" cy="862.90" r="5.00" fill="#ff00ff"/>
<circle cx="328.18" cy="881.90" r="5.00" fill="#ff00ff"/>
<circle cx="351.27" cy="901.20" r="5.00" fill="#ff00ff"/>
<circle cx="374.35" cy="919.80" r="5.00" fill="#ff00ff"/>
<circle cx="397.43" cy="935.00" r="5.00" fill="#ff00ff"/>
<circle cx="420.52" cy="949.30" r="5.00" fill="#ff00ff"/>
<circle cx="443.60" cy="961.60" r="5.00" fill="#ff00ff"/>
<circle cx="466.69" cy="970.60" r="5.00" fill="#ff00ff"/>
<circle cx="489.77" cy="980.30" r="5.00" fill="#ff00ff"/>
<circle cx="512.85" cy="974.20" r="5.00" fill="#ff00ff"/>
<circle cx="535.94" cy="967.50" r="5.00" fill="#ff00ff"/>
<circle cx="559.02" cy="958.20" r="5.00" fill="#ff00ff"/>
<circle cx="582.11" cy="942.20" r="5.00" fill="#ff00ff"/>
<circle cx="605.19" cy="926.50" r="5.00" fill="#ff00ff"/>
<circle cx="628.27" cy="906.10" r="5.00" fill="#ff00ff"/>
<circle cx="651.36" cy="886.70" r="5.00" fill="#ff00ff"/>
<polyline points="85.80,687.00 97.34,694.00 120.43,708.80 143.51,723.70 166.59,740.30 189.68,757.50 212.76,775.00 235.85,792.60 258.93,811.00 282.01,828.70 305.10,846.80 328.18,865.30 351.27,884.30 374.35,903.40 397.43,920.50 420.52,937.30 443.60,952.50 466.69,964.70 489.77,976.50 512.85,975.60 535.94,974.20 559.02,966.50 582.11,952.00 605.19,937.00 628.27,912.80 651.36,890.50 662.90,880.00" fill="none" stroke="#008000" stroke-width="2.00" stroke-dasharray="8 3 2 3" stroke-linejoin="round"/>
<rect x="92.84" y="689.50" width="9.00" height="9.00" fill="#008000"/>
<rect x="115.93" y="704.30" width="9.00" height="9.00" fill="#008000"/>
<rect x="139.01" y="719.20" width="9.00" height="9.00" fill="#008000"/>
<rect x="162.09" y="735.80" width="9.00" height="9.00" fill="#008000"/>
<rect x="185.18" y="753.00" width="9.00" height="9.00" fill="#008000"/>
<rect x="208.26" y="770.50" width="9.00" height="9.00" fill="#008000"/>
<rect x="231.35" y="788.10" width="9.00" height="9.00" fill="#008000"/>
<rect x="254.43" y="806.50" width="9.00" height="9.00" fill="#008000"/>
<rect x="277.51" y="824.20" width="9.00" height="9.00" fill="#008000"/>
<rect x="300.60" y="842.30" width="9.00" height="9.00" fill="#008000"/>
<rect x="323.68" y="860.80" width="9.00" height="9.00" fill="#008000"/>
<rect x="346.77" y="879.80" width="9.00" height="9.00" fill="#008000"/>
<rect x="369.85" y="898.90" width="9.00" height="9.00" fill="#008000"/>
<rect x="392.93" y="916.00" width="9.00" height="9.00" fill="#008000"/>
<rect x="416.02" y="932.80" width="9.00" height="9.00" fill="#008000"/>
<rect x="439.10" y="948.00" width="9.00" height="9.00" fill="#008000"/>
<rect x="462.19" y="960.20" width="9.00" height="9.00" fill="#008000"/>
<rect x="485.27" y="972.00" width="9.00" height="9.00" fill="#008000"/>
<rect x="508.35" y="971.10" width="9.00" height="9.00" fill="#008000"/>
<rect x="531.44" y="969.70" width="9.00" height="9.00" fill="#008000"/>
<rect x="554.52" y="962.00" width="9.00" height="9.00" fill="#008000"/>
<rect x="577.61" y="947.50" width="9.00" height="9.00" fill="#008000"/>
<rect x="600.69" y="932.50" width="9.00" height="9.00" fill="#008000"/>
<rect x="623.77" y="908.30" width="9.00" height="9.00" fill="#008000"/>
<rect x="646.86" y="886.00" width="9.00" height="9.00" fill="#008000"/>
<rect x="85.50" y="582.40" width="577.50" height="422.90" fill="none" stroke="#333" stroke-width="1.80"/>
<polyline points="335.50,620.60 361.30,620.60" fill="none" stroke="#000" stroke-width="2.10" stroke-dasharray="8 3.5 2 3.6 20" stroke-linejoin="round"/>
<polyline points="361.30,620.60 388.20,620.60" fill="none" stroke="#000" stroke-width="2.10" stroke-dasharray="0 7.6 8.2 3.1 1.5 4.1 2 10" stroke-linejoin="round"/>
<circle cx="361.30" cy="620.60" r="4.32" fill="url(#sph)"/>
<text x="393.20" y="628.00" font-size="23.00" font-family='"Liberation Serif", serif' text-anchor="start" >d=0mm</text>
<polyline points="335.50,648.80 361.30,648.80" fill="none" stroke="#ff0000" stroke-width="2.10" stroke-dasharray="8 3.5 2 3.6 20" stroke-linejoin="round"/>
<polyline points="361.30,648.80 388.20,648.80" fill="none" stroke="#ff0000" stroke-width="2.10" stroke-dasharray="0 7.6 8.2 3.1 1.5 4.1 2 10" stroke-linejoin="round"/>
<path d="M361.30,643.85 L362.67,647.51 L366.57,647.68 L363.51,650.11 L364.56,653.88 L361.30,651.72 L358.04,653.88 L359.09,650.11 L356.03,647.68 L359.93,647.51Z" fill="#ff0000"/>
<text x="393.20" y="656.20" font-size="23.00" font-family='"Liberation Serif", serif' text-anchor="start" >d=5mm</text>
<polyline points="335.50,677.10 361.30,677.10" fill="none" stroke="#0000ff" stroke-width="2.10" stroke-dasharray="8 3.5 2 3.6 20" stroke-linejoin="round"/>
<polyline points="361.30,677.10 388.20,677.10" fill="none" stroke="#0000ff" stroke-width="2.10" stroke-dasharray="0 7.6 8.2 3.1 1.5 4.1 2 10" stroke-linejoin="round"/>
<path d="M361.30,672.16 L366.26,681.14 L356.34,681.14Z" fill="#0000ff"/>
<text x="393.20" y="684.50" font-size="23.00" font-family='"Liberation Serif", serif' text-anchor="start" >d=10mm</text>
<polyline points="335.50,705.30 361.30,705.30" fill="none" stroke="#ff00ff" stroke-width="2.10" stroke-dasharray="8 3.5 2 3.6 20" stroke-linejoin="round"/>
<polyline points="361.30,705.30 388.20,705.30" fill="none" stroke="#ff00ff" stroke-width="2.10" stroke-dasharray="0 7.6 8.2 3.1 1.5 4.1 2 10" stroke-linejoin="round"/>
<circle cx="361.30" cy="705.30" r="4.50" fill="#ff00ff"/>
<text x="393.20" y="712.70" font-size="23.00" font-family='"Liberation Serif", serif' text-anchor="start" >d=15mm</text>
<polyline points="335.50,733.60 361.30,733.60" fill="none" stroke="#008000" stroke-width="2.10" stroke-dasharray="8 3.5 2 3.6 20" stroke-linejoin="round"/>
<polyline points="361.30,733.60 388.20,733.60" fill="none" stroke="#008000" stroke-width="2.10" stroke-dasharray="0 7.6 8.2 3.1 1.5 4.1 2 10" stroke-linejoin="round"/>
<rect x="357.25" y="729.55" width="8.10" height="8.10" fill="#008000"/>
<text x="393.20" y="741.00" font-size="23.00" font-family='"Liberation Serif", serif' text-anchor="start" >d=20mm</text>
<text x="373.80" y="1062.20" font-size="26.00" font-family='"Liberation Serif", serif' text-anchor="middle" letter-spacing="0.55">Frequency[MHz]</text>
<text x="341.70" y="1106.00" font-size="39.00" font-family='"Liberation Serif", serif' text-anchor="middle" >(b)</text>
<g transform="translate(25.9,784.6) rotate(-90)"><text x="0" y="0" font-size="26" font-family='"Liberation Serif", serif' text-anchor="middle">P<tspan font-size="16" dy="9.5">R</tspan><tspan dy="-9.5" letter-spacing="0.75">[dBm]</tspan></text></g>
<text x="85.80" y="1559.10" font-size="18.50" font-family='"Liberation Sans", sans-serif' text-anchor="end" >920</text>
<line x1="95.40" y1="1447.32" x2="104.40" y2="1447.32" stroke="#222" stroke-width="1.40"/>
<text x="85.80" y="1452.92" font-size="18.50" font-family='"Liberation Sans", sans-serif' text-anchor="end" >930</text>
<line x1="95.40" y1="1341.14" x2="104.40" y2="1341.14" stroke="#222" stroke-width="1.40"/>
<text x="85.80" y="1346.74" font-size="18.50" font-family='"Liberation Sans", sans-serif' text-anchor="end" >940</text>
<line x1="95.40" y1="1234.96" x2="104.40" y2="1234.96" stroke="#222" stroke-width="1.40"/>
<text x="85.80" y="1240.56" font-size="18.50" font-family='"Liberation Sans", sans-serif' text-anchor="end" >950</text>
<text x="85.80" y="1134.38" font-size="18.50" font-family='"Liberation Sans", sans-serif' text-anchor="end" >960</text>
<line x1="143.50" y1="1553.50" x2="143.50" y2="1545.50" stroke="#222" stroke-width="1.40"/>
<text x="143.50" y="1576.30" font-size="18.50" font-family='"Liberation Sans", sans-serif' text-anchor="middle" >0</text>
<line x1="263.85" y1="1553.50" x2="263.85" y2="1545.50" stroke="#222" stroke-width="1.40"/>
<text x="263.85" y="1576.30" font-size="18.50" font-family='"Liberation Sans", sans-serif' text-anchor="middle" >5</text>
<line x1="384.20" y1="1553.50" x2="384.20" y2="1545.50" stroke="#222" stroke-width="1.40"/>
<text x="384.20" y="1576.30" font-size="18.50" font-family='"Liberation Sans", sans-serif' text-anchor="middle" >10</text>
<line x1="504.55" y1="1553.50" x2="504.55" y2="1545.50" stroke="#222" stroke-width="1.40"/>
<text x="504.55" y="1576.30" font-size="18.50" font-family='"Liberation Sans", sans-serif' text-anchor="middle" >15</text>
<line x1="624.90" y1="1553.50" x2="624.90" y2="1545.50" stroke="#222" stroke-width="1.40"/>
<text x="624.90" y="1576.30" font-size="18.50" font-family='"Liberation Sans", sans-serif' text-anchor="middle" >20</text>
<polyline points="143.50,1394.23 263.85,1234.96 384.20,1181.87 504.55,1171.25 624.90,1171.25" fill="none" stroke="#000" stroke-width="1.80" stroke-dasharray="8.5 5.5" stroke-linejoin="round"/>
<polyline points="143.50,1500.41 263.85,1341.14 384.20,1288.05 504.55,1234.96 624.90,1234.96" fill="none" stroke="#ff0000" stroke-width="1.80" stroke-dasharray="8.5 5.5" stroke-linejoin="round"/>
<rect x="139.00" y="1389.73" width="9.00" height="9.00" fill="#000"/>
<rect x="259.35" y="1230.46" width="9.00" height="9.00" fill="#000"/>
<rect x="379.70" y="1177.37" width="9.00" height="9.00" fill="#000"/>
<rect x="500.05" y="1166.75" width="9.00" height="9.00" fill="#000"/>
<rect x="620.40" y="1166.75" width="9.00" height="9.00" fill="#000"/>
<circle cx="143.50" cy="1500.41" r="4.75" fill="#ff0000"/>
<circle cx="263.85" cy="1341.14" r="4.75" fill="#ff0000"/>
<circle cx="384.20" cy="1288.05" r="4.75" fill="#ff0000"/>
<circle cx="504.55" cy="1234.96" r="4.75" fill="#ff0000"/>
<circle cx="624.90" cy="1234.96" r="4.75" fill="#ff0000"/>
<rect x="95.20" y="1128.80" width="578.10" height="424.70" fill="none" stroke="#2a2a2a" stroke-width="1.80"/>
<polyline points="118.80,1163.50 169.00,1163.50" fill="none" stroke="#000" stroke-width="1.80" stroke-dasharray="9 11.5" stroke-linejoin="round"/>
<rect x="139.30" y="1159.50" width="8.00" height="8.00" fill="#000"/>
<text x="174.90" y="1169.80" font-size="22.00" font-family='"Liberation Serif", serif' text-anchor="start" >reverse placement</text>
<polyline points="118.80,1189.50 169.00,1189.50" fill="none" stroke="#ff0000" stroke-width="1.80" stroke-dasharray="9 11.5" stroke-linejoin="round"/>
<circle cx="144.20" cy="1189.50" r="4.75" fill="#ff0000"/>
<text x="174.90" y="1196.50" font-size="22.00" font-family='"Liberation Serif", serif' text-anchor="start" >parallel placement</text>
<text x="384.20" y="1613.90" font-size="26.00" font-family='"Liberation Serif", serif' text-anchor="middle" letter-spacing="0.2">Distance[mm]</text>
<text x="343.80" y="1652.60" font-size="35.00" font-family='"Liberation Serif", serif' text-anchor="middle" >(c)</text>
<g transform="translate(29.7,1329) rotate(-90)"><text x="0" y="0" font-size="26" font-family='"Liberation Sans", sans-serif' text-anchor="middle">Working frequency[MHz]</text></g>
</svg></body></html>
